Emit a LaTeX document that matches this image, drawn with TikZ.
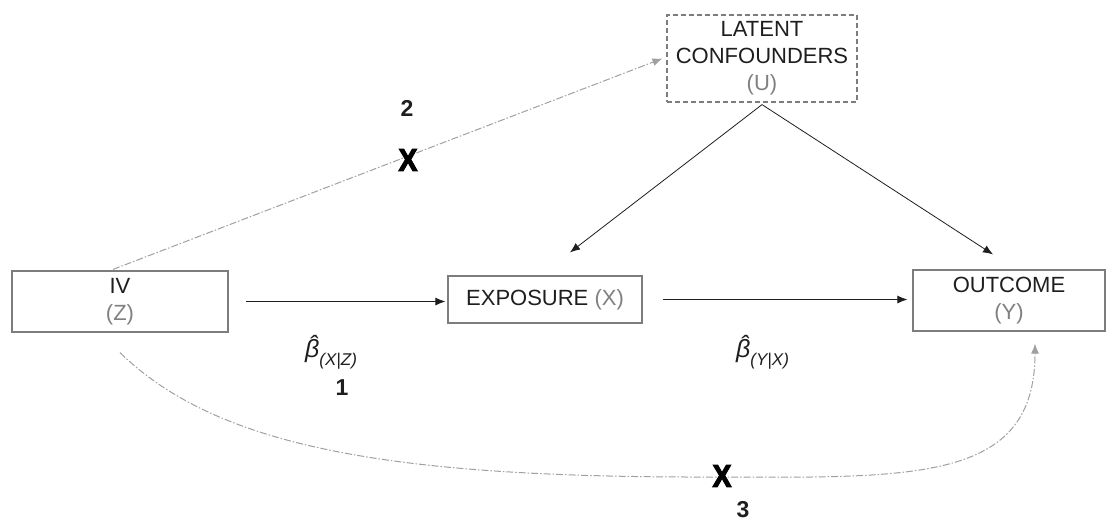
\documentclass[tikz,border=0pt]{standalone}
\usepackage{fontspec}
\setmainfont{Liberation Sans}
\newfontfamily\xfont[FakeBold=4]{Liberation Sans Bold}
\usetikzlibrary{arrows.meta}
\definecolor{boxgray}{RGB}{125,125,125}
\definecolor{txtgray}{RGB}{128,128,128}
\definecolor{dashgray}{RGB}{160,160,160}
\definecolor{ink}{RGB}{30,30,30}
\newcommand{\gr}[1]{\textcolor{txtgray}{#1}}
\newcommand{\bhat}[1]{{\itshape\fontsize{25}{25}\selectfont\makebox[0pt][l]{\kern0.17em\raisebox{0.18em}{ˆ}}β\raisebox{-0.3em}{\fontsize{17}{17}\selectfont(#1)}}}
\begin{document}
\begin{tikzpicture}[x=1pt,y=-1pt,
  box/.style={draw=boxgray, line width=1.2pt, rectangle, inner sep=0pt, align=center,
    font=\fontsize{22}{27}\selectfont, text=ink},
  arr/.style={draw=ink, line width=0.8pt, -{Latex[length=10pt,width=8pt]}},
  garr/.style={draw=dashgray, line width=1pt, dash pattern=on 7pt off 2pt on 1.5pt off 2pt,
    -{Latex[length=10pt,width=8pt]}},
  num/.style={font=\fontsize{23}{23}\selectfont\bfseries, text=ink},
  lbl/.style={text=ink, anchor=west, inner sep=0pt},
  cross/.style={font=\fontsize{31}{31}\selectfont\xfont, text=black, xscale=0.9, inner sep=0pt}
]
\useasboundingbox (0,0) rectangle (1110,523);
\node[box, minimum width=216pt, minimum height=61pt] (iv) at (120,301.5) {IV\\\gr{(Z)}};
\node[box, minimum width=194pt, minimum height=47pt] (exp) at (545,299.5) {EXPOSURE \gr{(X)}};
\node[box, minimum width=192pt, minimum height=61pt] (out) at (1009,300.5) {OUTCOME\\\gr{(Y)}};
\node[box, dash pattern=on 5pt off 3pt, minimum width=190pt, minimum height=87pt] (lat) at (762,58.5) {LATENT\\CONFOUNDERS\\\gr{(U)}};

\draw[arr] ([xshift=17pt]iv.east) -- ([xshift=-2pt]iv.east -| exp.west);
\draw[arr] ([xshift=20pt]exp.east) -- ([xshift=-5pt]exp.east -| out.west);
\draw[arr] ([yshift=-2pt]lat.south) -- ([shift={(25,-23)}]exp.north);
\draw[arr] ([yshift=-2pt]lat.south) -- ([shift={(-16,-15)}]out.north);

\draw[garr] ([shift={(-7,-1)}]iv.north) -- ([xshift=-4pt]lat.west);
\draw[garr] ([yshift=-20pt]iv.south) .. controls (220,450) and (400,478) .. (720,477)
  .. controls (920,478) and (1035,480) .. ([shift={(26,12)}]out.south);

\node[cross] (x2) at (408,160) {X};
\node[cross] (x3) at (722,476) {X};

\node[num] (n2) at (407,108) {2};
\node[num] (n1) at (342,388) {1};
\node[num] (n3) at (743,510) {3};

\node[lbl] (b1) at (305,352) {\bhat{X|Z}};
\node[lbl] (b2) at (736,352) {\bhat{Y|X}};
\end{tikzpicture}
\end{document}
